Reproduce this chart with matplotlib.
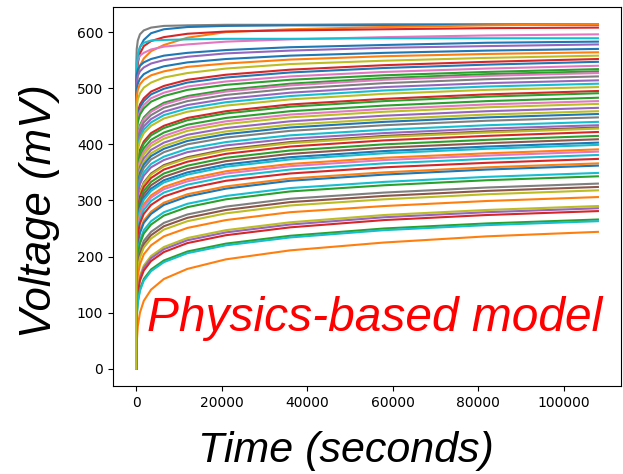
import matplotlib
matplotlib.use("Agg")
import matplotlib.pyplot as plt

# sample times (s) shared by every curve
t_sec = [0, 50, 150, 400, 900, 1800, 3500, 6500, 12000, 21000, 36000, 58000, 82000, 108000]

# voltages (mV), grouped by final level
upper_mv = [
    [0, 545, 570, 585, 596, 603, 608, 611, 612, 613, 613, 614, 614, 614],
    [0, 500, 530, 555, 573, 586, 598, 605, 609, 611, 612, 612, 613, 613],
    [0, 480, 505, 525, 540, 553, 566, 577, 590, 600, 605, 609, 612, 614],
    [0, 490, 520, 545, 562, 575, 584, 591, 597, 601, 603, 605, 607, 608],
    [0, 535, 543, 551, 558, 563, 569, 574, 578, 583, 587, 591, 594, 596],
    [35, 500, 535, 560, 573, 581, 585, 586, 587, 588, 588, 589, 589, 589],
    [0, 514, 524, 533, 540, 546, 552, 558, 563, 568, 573, 577, 581, 583],
    [0, 501, 512, 522, 530, 537, 544, 550, 556, 562, 567, 572, 575, 578],
    [0, 486, 498, 508, 517, 525, 532, 539, 546, 552, 558, 563, 567, 570],
    [0, 472, 485, 497, 507, 515, 523, 530, 538, 544, 551, 557, 561, 564],
    [0, 451, 466, 480, 491, 501, 510, 519, 527, 535, 543, 549, 554, 558],
]
upper_colors = ["C7", "C0", "C1", "C3", "C6", "C9", "C0", "C4", "C0", "C1", "C8"]

high_mv = [
    [0, 421, 440, 457, 471, 482, 494, 504, 515, 524, 533, 541, 547, 552],
    [0, 416, 435, 452, 466, 477, 489, 499, 510, 519, 528, 536, 542, 547],
    [0, 409, 428, 445, 459, 470, 482, 492, 503, 512, 521, 529, 535, 540],
    [0, 403, 422, 439, 453, 464, 476, 486, 497, 506, 515, 523, 529, 534],
    [0, 376, 398, 418, 434, 448, 461, 474, 486, 497, 508, 518, 525, 530],
    [0, 373, 395, 415, 431, 445, 458, 471, 483, 494, 505, 515, 522, 527],
    [0, 367, 389, 409, 425, 439, 452, 465, 477, 488, 499, 509, 516, 521],
    [0, 360, 382, 402, 418, 432, 445, 458, 470, 481, 492, 502, 509, 514],
    [0, 354, 376, 396, 412, 426, 439, 452, 464, 475, 486, 496, 503, 508],
    [0, 348, 370, 390, 406, 420, 433, 446, 458, 469, 480, 490, 497, 502],
]
high_colors = ["C3", "C0", "C6", "C2", "C2", "C6", "C7", "C4", "C9", "C8"]

mid_mv = [
    [0, 326, 350, 372, 390, 405, 420, 433, 447, 459, 471, 481, 489, 495],
    [0, 322, 346, 368, 386, 401, 416, 429, 443, 455, 467, 477, 485, 491],
    [0, 314, 338, 360, 378, 393, 408, 421, 435, 447, 459, 469, 477, 483],
    [0, 308, 332, 354, 372, 387, 402, 415, 429, 441, 453, 463, 471, 477],
    [0, 303, 327, 349, 367, 382, 397, 410, 424, 436, 448, 458, 466, 472],
    [0, 296, 320, 342, 360, 375, 390, 403, 417, 429, 441, 451, 459, 465],
    [0, 290, 314, 336, 354, 369, 384, 397, 411, 423, 435, 445, 453, 459],
    [0, 285, 309, 331, 349, 364, 379, 392, 406, 418, 430, 440, 448, 454],
    [0, 279, 303, 325, 343, 358, 373, 386, 400, 412, 424, 434, 442, 448],
    [0, 271, 295, 317, 335, 350, 365, 378, 392, 404, 416, 426, 434, 440],
    [0, 265, 289, 311, 329, 344, 359, 372, 386, 398, 410, 420, 428, 434],
]
mid_colors = ["C3", "C2", "C2", "C6", "C8", "C4", "C8", "C0", "C7", "C9", "C4"]

lower_mv = [
    [0, 246, 272, 296, 315, 332, 348, 363, 377, 391, 404, 415, 423, 430],
    [0, 244, 270, 294, 313, 330, 346, 361, 375, 389, 402, 413, 421, 428],
    [0, 238, 264, 288, 307, 324, 340, 355, 369, 383, 396, 407, 415, 422],
    [0, 231, 257, 281, 300, 317, 333, 348, 362, 376, 389, 400, 408, 415],
    [0, 225, 251, 275, 294, 311, 327, 342, 356, 370, 383, 394, 402, 409],
    [35, 219, 245, 269, 288, 305, 321, 336, 350, 364, 377, 388, 396, 403],
    [0, 215, 241, 265, 284, 301, 317, 332, 346, 360, 373, 384, 392, 399],
    [0, 207, 233, 257, 276, 293, 309, 324, 338, 352, 365, 376, 384, 391],
    [0, 203, 229, 253, 272, 289, 305, 320, 334, 348, 361, 372, 380, 387],
    [0, 197, 223, 247, 266, 283, 299, 314, 328, 342, 355, 366, 374, 381],
    [0, 190, 216, 240, 259, 276, 292, 307, 321, 335, 348, 359, 367, 374],
]
lower_colors = ["C5", "C8", "C3", "C2", "C5", "C0", "C9", "C1", "C6", "C9", "C3"]

low_mv = [
    [0, 174, 202, 226, 246, 264, 280, 296, 311, 325, 339, 350, 359, 366],
    [0, 170, 198, 222, 242, 260, 276, 292, 307, 321, 335, 346, 355, 362],
    [0, 157, 185, 209, 229, 247, 263, 279, 294, 308, 322, 333, 342, 349],
    [0, 151, 179, 203, 223, 241, 257, 273, 288, 302, 316, 327, 336, 343],
    [0, 138, 166, 190, 210, 228, 244, 260, 275, 289, 303, 314, 323, 330],
    [0, 132, 160, 184, 204, 222, 238, 254, 269, 283, 297, 308, 317, 324],
    [18, 126, 154, 178, 198, 216, 232, 248, 263, 277, 291, 302, 311, 318],
    [0, 114, 142, 166, 186, 204, 220, 236, 251, 265, 279, 290, 299, 306],
]
low_colors = ["C1", "C0", "C9", "C2", "C7", "C5", "C8", "C1"]

bottom_mv = [
    [0, 90, 119, 144, 166, 184, 201, 217, 233, 247, 261, 274, 283, 290],
    [0, 86, 115, 140, 162, 180, 197, 213, 229, 243, 257, 270, 279, 286],
    [0, 81, 110, 135, 157, 175, 192, 208, 224, 238, 252, 265, 274, 281],
    [0, 66, 95, 120, 142, 160, 177, 193, 209, 223, 237, 250, 259, 266],
    [0, 63, 92, 117, 139, 157, 174, 190, 206, 220, 234, 247, 256, 263],
    [0, 14, 47, 76, 100, 121, 141, 160, 178, 195, 211, 225, 236, 244],
]
bottom_colors = ["C8", "C4", "C3", "C2", "C9", "C1"]

fig = plt.figure(figsize=(6.23, 4.74), dpi=100)
ax = fig.add_axes([113 / 623, 1 - 386 / 474, 508 / 623, 379 / 474])

groups = [
    (bottom_mv, bottom_colors),
    (low_mv, low_colors),
    (lower_mv, lower_colors),
    (mid_mv, mid_colors),
    (high_mv, high_colors),
    (upper_mv, upper_colors),
]
for rows, colors in groups:
    for v, c in zip(rows, colors):
        ax.plot(t_sec, v, color=c, linewidth=1.5)

ax.text(2500, 68, "Physics-based model", color="red", fontsize=34.5,
        style="italic", family="Liberation Sans")

fig.text(346 / 623, 1 - 462 / 474, "Time (seconds)", fontsize=31,
         style="italic", family="Liberation Sans", ha="center", va="baseline")
fig.text(40 / 623, 1 - 211 / 474, "Voltage (mV)", fontsize=31.5, rotation=90,
         style="italic", family="Liberation Sans", ha="center", va="center")

fig.savefig("out.png", dpi=100)
